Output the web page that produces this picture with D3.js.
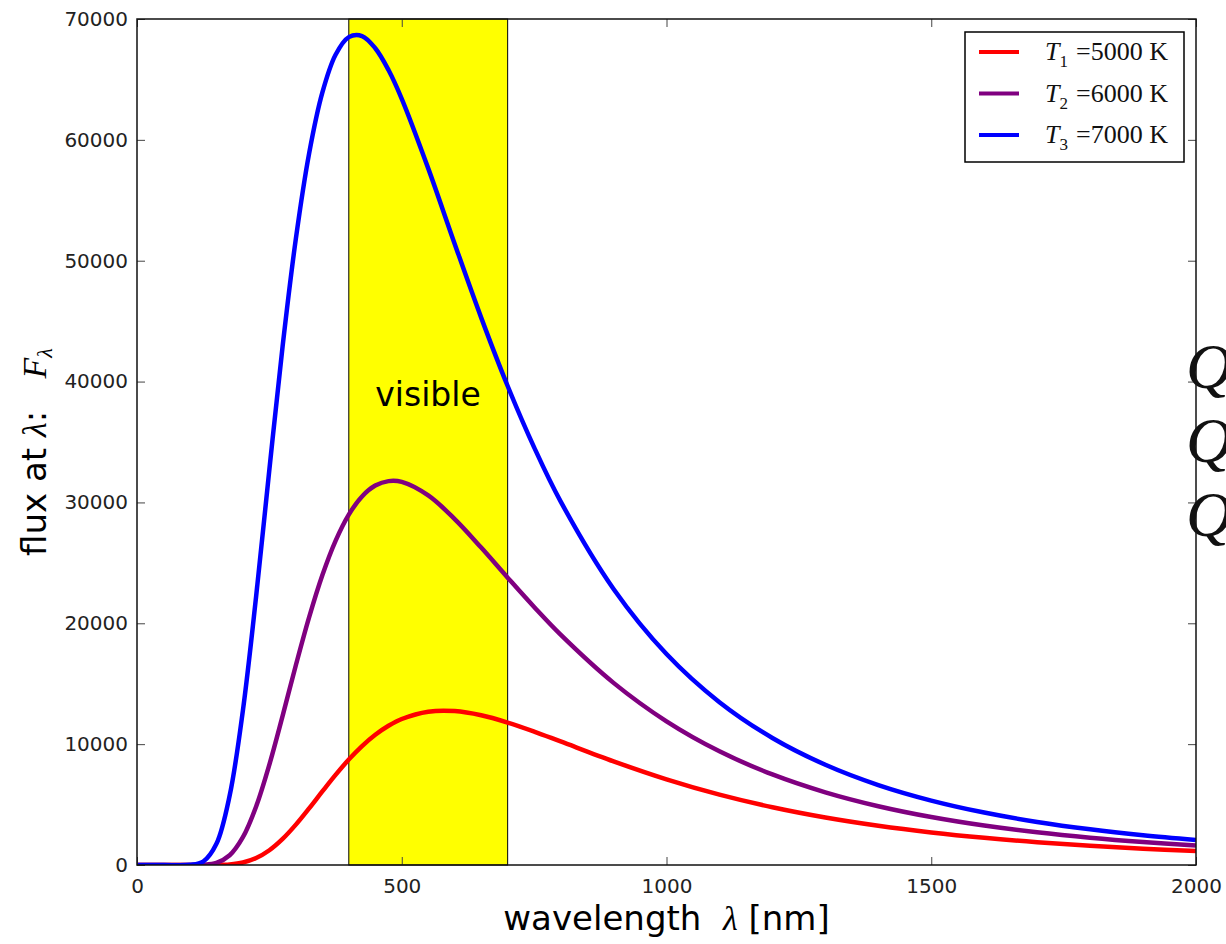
<!DOCTYPE html>
<html>
<head>
<meta charset="utf-8">
<script src="https://cdn.jsdelivr.net/npm/d3@7"></script>
<style>
  body { margin: 0; background: #fff; }
  svg { display: block; }
  text { font-family: "DejaVu Sans", sans-serif; white-space: pre; }
  .serif { font-family: "Liberation Serif", "DejaVu Serif", serif; }
</style>
</head>
<body>
<svg width="1226" height="944"></svg>
<script>
// wavelengths (nm) and flux values
var wavelength = [0, 50, 100, 125, 150, 175, 200, 225, 250, 275, 300, 325, 350, 375, 400, 425, 450, 475, 500,
                  550, 600, 650, 700, 750, 800, 900, 1000, 1100, 1200, 1300, 1400, 1500, 1600, 1700, 1800, 1900, 2000];

var flux5000 = [0, 0, 0, 0, 7, 52, 210, 575, 1221, 2158, 3340, 4682, 6085, 7456, 8726, 9843, 10779, 11524, 12082,
                12687, 12737, 12390, 11787, 11040, 10222, 8577, 7088, 5820, 4777, 3929, 3246, 2694, 2249, 1888, 1594, 1353, 1155];
var flux6000 = [0, 0, 0, 18, 178, 810, 2305, 4847, 8311, 12344, 16527, 20488, 23972, 26823, 28994, 30497, 31393, 31763, 31697,
                30575, 28620, 26262, 23775, 21345, 19058, 15069, 11887, 9408, 7492, 6012, 4863, 3967, 3261, 2702, 2255, 1895, 1604];
var flux7000 = [0, 0, 14, 282, 1752, 5743, 12786, 22231, 32728, 42926, 51815, 58862, 63904, 67040, 68502, 68593, 67583, 65780, 63398,
                57641, 51390, 45290, 39632, 34558, 30086, 22841, 17456, 13470, 10511, 8294, 6614, 5331, 4338, 3562, 2950, 2462, 2070];

var seriesNames = ["1", "2", "3"];
var seriesTemps = ["5000", "6000", "7000"];
var seriesColors = ["#ff0000", "#800080", "#0000ff"];
var seriesValues = [flux5000, flux6000, flux7000];

var xTicks = [0, 500, 1000, 1500, 2000];
var yTicks = [0, 10000, 20000, 30000, 40000, 50000, 60000, 70000];
var visibleBand = [400, 700];

var svg = d3.select("svg");
var pLeft = 137, pRight = 1196, pTop = 19, pBottom = 865;

var x = d3.scaleLinear().domain([0, 2000]).range([pLeft, pRight]);
var y = d3.scaleLinear().domain([0, 70000]).range([pBottom, pTop]);

svg.append("defs").append("clipPath").attr("id", "plot")
  .append("rect").attr("x", pLeft).attr("y", pTop).attr("width", pRight - pLeft).attr("height", pBottom - pTop);

// yellow visible band
svg.append("rect")
  .attr("x", x(visibleBand[0]))
  .attr("y", pTop)
  .attr("width", x(visibleBand[1]) - x(visibleBand[0]))
  .attr("height", pBottom - pTop)
  .style("fill", "#ffff00")
  .style("stroke", "#000")
  .style("stroke-width", "1px");

svg.append("text")
  .attr("x", x(450))
  .attr("y", y(38000))
  .style("font-size", "33px")
  .style("fill", "#000")
  .text("visible");

// curves
var line = d3.line()
  .x(function(d, i) { return x(wavelength[i]); })
  .y(function(d) { return y(Math.max(0, d)); })
  .curve(d3.curveCatmullRom.alpha(0.5));

svg.append("g")
  .attr("clip-path", "url(#plot)")
  .selectAll("path")
  .data(seriesValues)
  .enter().append("path")
    .attr("d", line)
    .style("fill", "none")
    .style("stroke", function(d, i) { return seriesColors[i]; })
    .style("stroke-width", "4.5px")
    .style("stroke-linejoin", "round");

// axes with inward ticks on all four sides
var tickLen = 8;
var fmt = d3.format("d");
svg.append("g").attr("transform", "translate(0," + pBottom + ")")
  .call(d3.axisBottom(x).tickValues(xTicks).tickSize(-tickLen).tickPadding(tickLen + 6).tickFormat(fmt));
svg.append("g").attr("transform", "translate(0," + pTop + ")")
  .call(d3.axisTop(x).tickValues(xTicks).tickSize(-tickLen).tickFormat(""));
svg.append("g").attr("transform", "translate(" + pLeft + ",0)")
  .call(d3.axisLeft(y).tickValues(yTicks).tickSize(-tickLen).tickPadding(tickLen + 1).tickFormat(fmt));
svg.append("g").attr("transform", "translate(" + pRight + ",0)")
  .call(d3.axisRight(y).tickValues(yTicks).tickSize(-tickLen).tickFormat(""));

svg.selectAll(".domain").remove();
svg.selectAll(".tick line").style("stroke", "#444").style("stroke-width", "1px");
svg.selectAll(".tick text")
  .style("font-family", "DejaVu Sans")
  .style("font-size", "20px")
  .style("fill", "#222");

svg.append("rect")
  .attr("x", pLeft).attr("y", pTop)
  .attr("width", pRight - pLeft).attr("height", pBottom - pTop)
  .style("fill", "none").style("stroke", "#111").style("stroke-width", "1.5px");

// axis labels
var xl = svg.append("text")
  .attr("x", (pLeft + pRight) / 2)
  .attr("y", 930)
  .attr("text-anchor", "middle")
  .style("font-size", "34px")
  .style("fill", "#000");
xl.append("tspan").text("wavelength  ");
xl.append("tspan").attr("class", "serif").style("font-style", "italic").text("λ");
xl.append("tspan").text(" [nm]");

var yl = svg.append("text")
  .attr("transform", "translate(46,452) rotate(-90)")
  .attr("text-anchor", "middle")
  .style("font-size", "34px")
  .style("fill", "#000");
yl.append("tspan").text("flux at ");
yl.append("tspan").attr("class", "serif").style("font-style", "italic").text("λ");
yl.append("tspan").text(":   ");
yl.append("tspan").attr("class", "serif").style("font-style", "italic").text("F");
yl.append("tspan").attr("class", "serif").style("font-style", "italic")
  .style("font-size", "22px").attr("dy", 6).text("λ");

// legend
var lg = svg.append("g");
lg.append("rect")
  .attr("x", 965).attr("y", 32).attr("width", 219).attr("height", 130)
  .style("fill", "#fff").style("stroke", "#000").style("stroke-width", "1.5px");

var rows = lg.selectAll("g.row")
  .data(seriesNames)
  .enter().append("g")
    .attr("class", "row")
    .attr("transform", function(d, i) { return "translate(0," + (52 + i * 41.5) + ")"; });

rows.append("line")
  .attr("x1", 979).attr("x2", 1019)
  .style("stroke", function(d, i) { return seriesColors[i]; })
  .style("stroke-width", "4px");

var lt = rows.append("text")
  .attr("class", "serif")
  .attr("x", 1045)
  .attr("y", 8)
  .style("font-size", "26px")
  .style("fill", "#111");
lt.append("tspan").style("font-style", "italic").text("T");
lt.append("tspan").style("font-size", "17px").attr("dy", 7).text(function(d) { return d; });
lt.append("tspan").attr("dy", -7).attr("dx", 8).text(function(d, i) { return "=" + seriesTemps[i] + " K"; });

// stray glyphs cut off at the right edge
svg.append("g").selectAll("text")
  .data([388, 462, 536])
  .enter().append("text")
    .attr("class", "serif")
    .attr("x", 1186)
    .attr("y", function(d) { return d; })
    .style("font-size", "64px")
    .style("font-style", "italic")
    .style("fill", "#111")
    .text("Q");
</script>
</body>
</html>
